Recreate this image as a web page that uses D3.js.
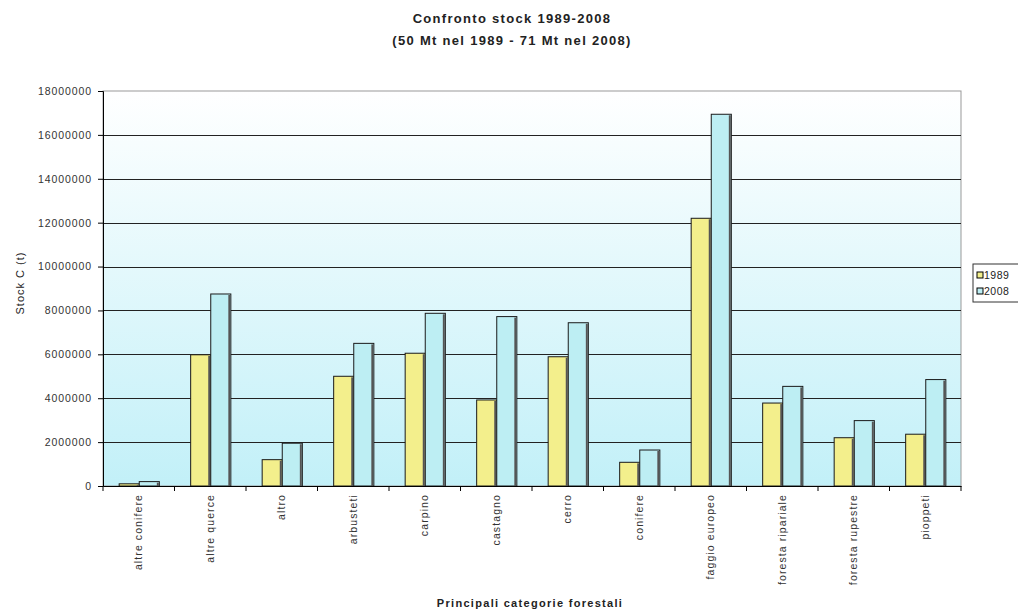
<!DOCTYPE html>
<html><head><meta charset="utf-8">
<script src="https://cdn.jsdelivr.net/npm/d3@7"></script>
<style>body{margin:0;background:#fff}svg{display:block}text{font-family:"Liberation Sans",Arial,sans-serif}</style>
</head><body>
<script>
const categories = ["altre conifere","altre querce","altro","arbusteti","carpino","castagno","cerro","conifere","faggio europeo","foresta ripariale","foresta rupestre","pioppeti"];
const seriesNames = ["1989","2008"];
const values1989 = [100000,5980000,1200000,5000000,6050000,3920000,5890000,1080000,12200000,3780000,2200000,2360000];
const values2008 = [200000,8750000,1950000,6500000,7870000,7720000,7440000,1640000,16940000,4540000,2980000,4850000];
const yTicks = [0,2000000,4000000,6000000,8000000,10000000,12000000,14000000,16000000,18000000];
const colors = ["#f3ef8c","#bdeef3"];

const W=1018,H=612;
const m={l:103,r:961,t:91,b:486};
const svg=d3.select("body").append("svg").attr("width",W).attr("height",H);
const defs=svg.append("defs");
const g=defs.append("linearGradient").attr("id","bg").attr("x1",0).attr("x2",0).attr("y1",0).attr("y2",1);
g.append("stop").attr("offset","0%").attr("stop-color","#ffffff");
g.append("stop").attr("offset","100%").attr("stop-color","#c2f0f8");

const x=d3.scaleBand().domain(categories).range([m.l,m.r]).paddingInner(0).paddingOuter(0);
const y=d3.scaleLinear().domain([0,18000000]).range([m.b,m.t]);

svg.append("rect").attr("x",m.l).attr("y",m.t).attr("width",m.r-m.l).attr("height",m.b-m.t).attr("fill","url(#bg)").attr("stroke","#999").attr("stroke-width",1);

svg.append("g").selectAll("line").data(yTicks.filter(d=>d>0&&d<18000000)).join("line")
 .attr("x1",m.l).attr("x2",m.r).attr("y1",d=>Math.round(y(d))+0.5).attr("y2",d=>Math.round(y(d))+0.5)
 .attr("stroke","#222").attr("stroke-width",1);

const sub=d3.scaleBand().domain(seriesNames).range([0,x.bandwidth()]).paddingInner(0).paddingOuter(0.78);
const data=categories.map((c,i)=>({c,v:[values1989[i],values2008[i]]}));
const grp=svg.append("g").selectAll("g").data(data).join("g").attr("transform",d=>`translate(${x(d.c)},0)`);
grp.selectAll("rect").data(d=>d.v.map((v,j)=>({v,j}))).join("rect")
 .attr("x",d=>sub(seriesNames[d.j])+0.5).attr("width",sub.bandwidth())
 .attr("y",d=>y(d.v)).attr("height",d=>m.b-y(d.v))
 .attr("fill",d=>colors[d.j]).attr("stroke","#1a1a1a").attr("stroke-width",1);
grp.selectAll("line.sh").data(d=>d.v.map((v,j)=>({v,j}))).join("line").attr("class","sh")
 .attr("x1",d=>sub(seriesNames[d.j])+sub.bandwidth()-1).attr("x2",d=>sub(seriesNames[d.j])+sub.bandwidth()-1)
 .attr("y1",d=>y(d.v)+1).attr("y2",m.b).attr("stroke","#555").attr("stroke-width",2);

const ya=d3.axisLeft(y).tickValues(yTicks).tickSize(5).tickFormat(d3.format("d"));
const yg=svg.append("g").attr("transform",`translate(${m.l},0)`).call(ya);
yg.select(".domain").attr("stroke","#000");
yg.selectAll("text").attr("font-size",10.5).attr("letter-spacing",0.9).attr("fill","#333").attr("dx",-3);

const xa=d3.axisBottom(x).tickSize(0).tickFormat(d=>d);
const xg=svg.append("g").attr("transform",`translate(0,${m.b})`).call(xa);
xg.select(".domain").attr("stroke","#000");
xg.selectAll("text").attr("font-size",10.5).attr("letter-spacing",1.1).attr("fill","#333")
 .attr("transform","rotate(-90)").attr("text-anchor","end").attr("x",-8).attr("y",0).attr("dy","0.35em");
svg.append("g").selectAll("line").data(categories.concat(["_end"])).join("line")
 .attr("x1",(d,i)=>m.l+i*x.bandwidth()).attr("x2",(d,i)=>m.l+i*x.bandwidth())
 .attr("y1",m.b).attr("y2",m.b+5).attr("stroke","#000");

svg.append("text").attr("x",512).attr("y",23).attr("text-anchor","middle").attr("font-size",13).attr("letter-spacing",1.3).attr("font-weight","bold").attr("fill","#222").text("Confronto stock 1989-2008");
svg.append("text").attr("x",512).attr("y",45).attr("text-anchor","middle").attr("font-size",13).attr("letter-spacing",1.3).attr("font-weight","bold").attr("fill","#222").text("(50 Mt nel 1989 - 71 Mt nel 2008)");
svg.append("text").attr("transform","translate(24,283) rotate(-90)").attr("text-anchor","middle").attr("font-size",11).attr("letter-spacing",1).attr("fill","#222").text("Stock C (t)");
svg.append("text").attr("x",530).attr("y",607).attr("text-anchor","middle").attr("font-size",11).attr("letter-spacing",1.3).attr("font-weight","bold").attr("fill","#222").text("Principali categorie forestali");

const lg=svg.append("g").attr("transform","translate(973,264)");
lg.append("rect").attr("x",0).attr("y",0).attr("width",60).attr("height",38).attr("fill","#fff").attr("stroke","#333");
seriesNames.forEach((s,i)=>{
 lg.append("rect").attr("x",4).attr("y",8+i*16).attr("width",6).attr("height",6).attr("fill",colors[i]).attr("stroke","#000");
 lg.append("text").attr("x",11).attr("y",15+i*16).attr("font-size",10.5).attr("letter-spacing",0.5).attr("fill","#222").text(s);
});
</script>
</body></html>
